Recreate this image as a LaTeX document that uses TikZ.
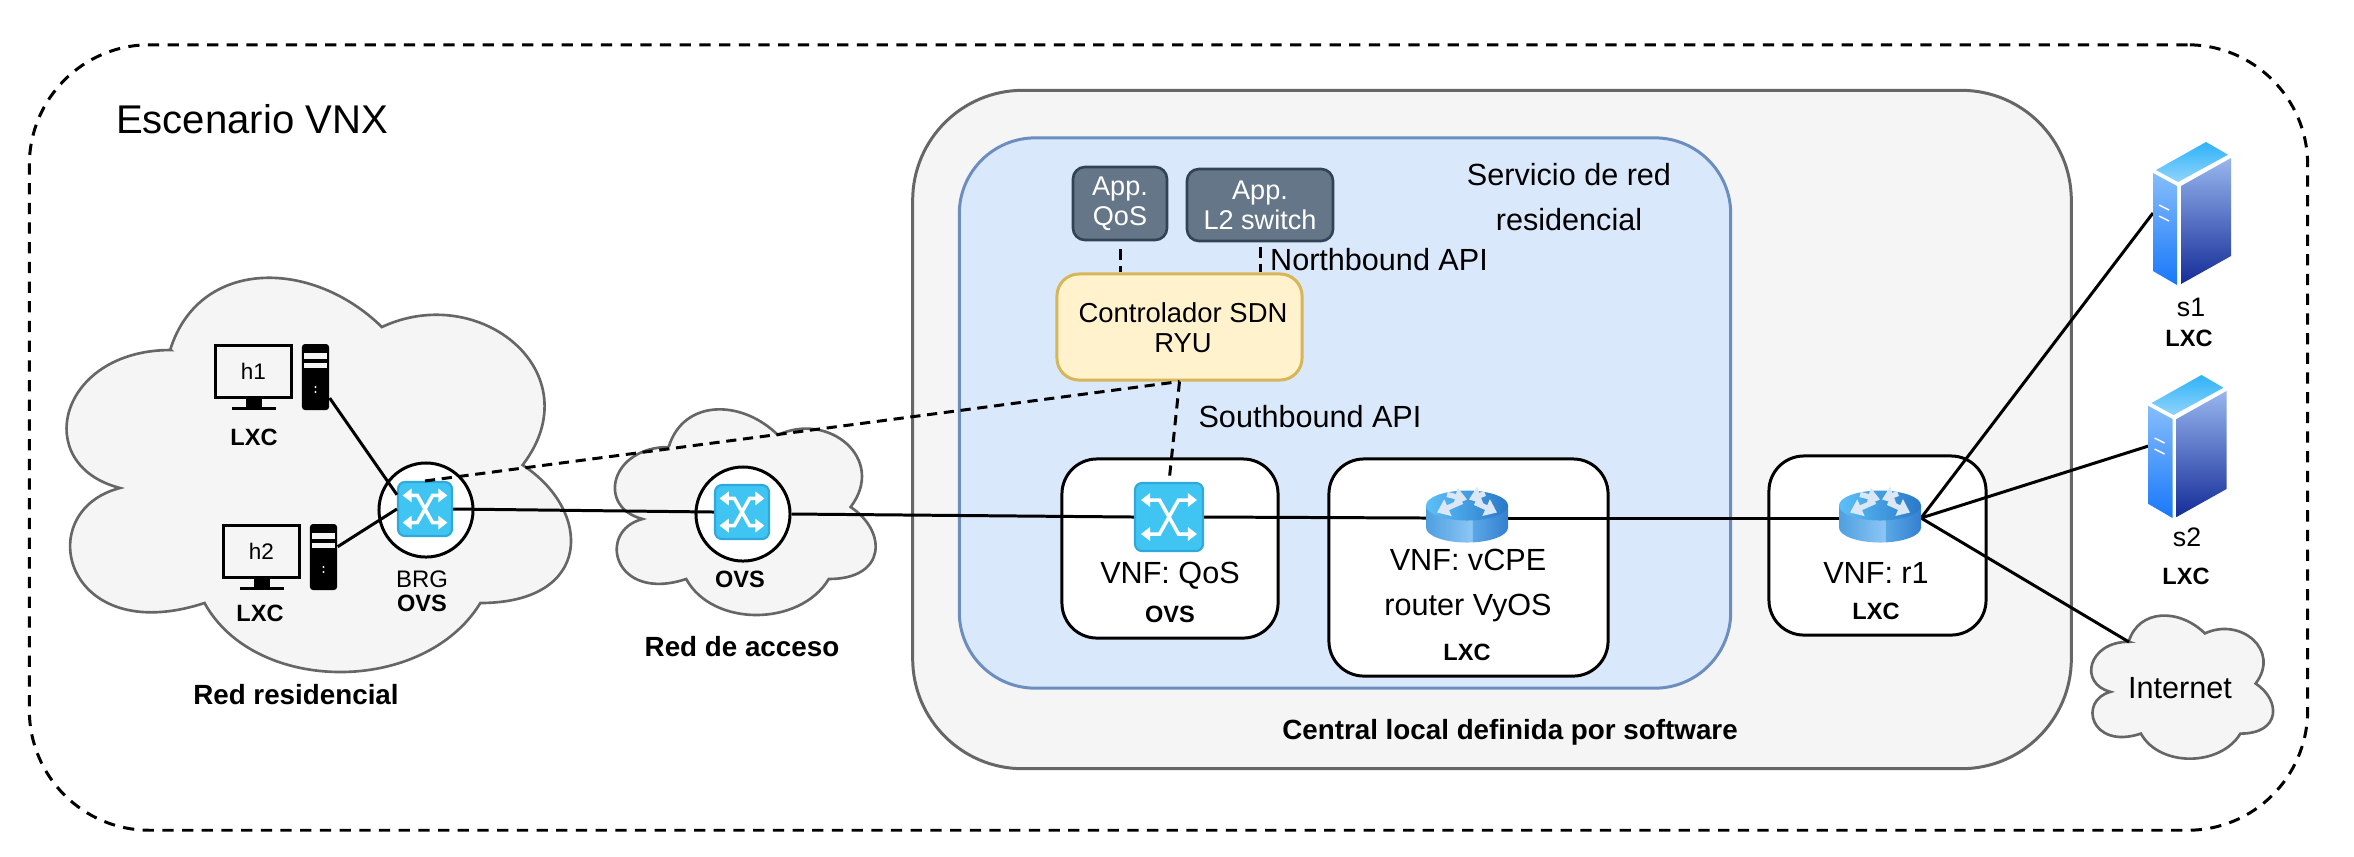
\documentclass[tikz,border=0pt]{standalone}
\usepackage{fontspec}
\usepackage{tikz}
\usetikzlibrary{arrows.meta, positioning}
\setmainfont{Liberation Sans}
\definecolor{cloudFill}{HTML}{F5F5F5}
\definecolor{cloudLine}{HTML}{666666}
\definecolor{svcFill}{HTML}{DAE8FC}
\definecolor{svcLine}{HTML}{6C8EBF}
\definecolor{ctrlFill}{HTML}{FFF2CC}
\definecolor{ctrlLine}{HTML}{D6B656}
\definecolor{appFill}{HTML}{647687}
\definecolor{appLine}{HTML}{314354}
\definecolor{swFill}{HTML}{40C5F3}
\definecolor{swLine}{HTML}{2FA8DC}
\definecolor{srvTopA}{HTML}{2FB2F8}
\definecolor{srvTopB}{HTML}{90D4FB}
\definecolor{srvLeftA}{HTML}{86BDFB}
\definecolor{srvLeftB}{HTML}{1878FA}
\definecolor{srvRightA}{HTML}{98B6EE}
\definecolor{srvRightB}{HTML}{142C98}
\definecolor{rtTopA}{HTML}{5CC0F8}
\definecolor{rtTopB}{HTML}{2A78C8}
\definecolor{rtBodyA}{HTML}{4F9FE0}
\definecolor{rtBodyB}{HTML}{8CC6F5}
\definecolor{rtBodyC}{HTML}{5AA8E6}
\definecolor{rtBodyD}{HTML}{347FD0}
\definecolor{rtArrow}{HTML}{DCE7F6}
\pgfdeclarehorizontalshading{rtbody}{100bp}{color(0bp)=(rtBodyA); color(25bp)=(rtBodyA); color(53bp)=(rtBodyB); color(53.3bp)=(rtBodyC); color(75bp)=(rtBodyD); color(100bp)=(rtBodyD)}
\newcommand{\cloudshape}[4]{%
  \begin{scope}[shift={(#1,#2)}, xscale=#3, yscale=#4]
    \draw[line width=0.75pt, draw=cloudLine, fill=cloudFill]
      (0.25,0.25) .. controls (0.05,0.25) and (0,0.5) .. (0.16,0.55)
      .. controls (0,0.6) and (0.06,0.9) .. (0.31,0.8)
      .. controls (0.4,1) and (0.7,1) .. (0.8,0.8)
      .. controls (1,0.8) and (1,0.6) .. (0.875,0.5)
      .. controls (1,0.3) and (0.8,0.1) .. (0.625,0.2)
      .. controls (0.5,0.05) and (0.3,0.05) .. cycle;
  \end{scope}}
\tikzset{
  swicon/.pic={
    \draw[white, line width=1pt, {Triangle[length=2.6pt,width=3.8pt]}-{Triangle[length=2.6pt,width=3.8pt]}]
      (-28,-17) -- (-9.5,-17) -- (9.5,17) -- (28,17);
    \draw[white, line width=1pt, {Triangle[length=2.6pt,width=3.8pt]}-{Triangle[length=2.6pt,width=3.8pt]}]
      (-28,17) -- (-9.5,17) -- (9.5,-17) -- (28,-17);
  },
  rticon/.pic={
    \shade[shading=rtbody] (0,9.5) ellipse [x radius=0.41cm, y radius=0.15cm];
    \shade[shading=rtbody] (-41,-12.5) rectangle (41,9.5);
    \shade[left color=rtTopA, right color=rtTopB] (0,-12.5) ellipse [x radius=0.41cm, y radius=0.15cm];
    \foreach \xa/\ya/\xb/\yb in {-5/-16.5/-30/-5.5, -20/-23.5/0/-18.5, 18/-24.5/2/-18.5, 8/-15.5/30/-5.5} {
      \draw[rtArrow, line width=1.5pt, -{Triangle[length=3.4pt,width=5pt]}] (\xa,\ya) -- (\xb,\yb);
    }
  },
  srvicon/.pic={
    \shade[bottom color=srvTopB, top color=srvTopA] (-36,-43) -- (14,-71) -- (36,-58.3) -- (-14,-31) -- cycle;
    \shade[top color=srvLeftA, bottom color=srvLeftB] (-39,-40) -- (-15,-27) -- (-15,72) -- (-39,58) -- cycle;
    \shade[top color=srvRightA, bottom color=srvRightB] (-11,-27) -- (39,-55) -- (39,43) -- (-11,71) -- cycle;
    \draw[white, line width=0.4pt] (-33,-8) -- (-23,-3) (-33,3) -- (-23,8);
  }
}
\begin{document}
\begin{tikzpicture}[
    x=0.01cm, y=-0.01cm,
    panel/.style={draw=cloudLine, fill=cloudFill, line width=0.85pt, rounded corners=1.1cm,
        minimum width=11.58cm, minimum height=6.78cm},
    vnf/.style={draw, fill=white, line width=0.85pt, rounded corners=0.35cm, inner sep=0pt},
    app/.style={draw=appLine, fill=appFill, line width=0.75pt, rounded corners=0.12cm, text=white,
        font=\fontsize{7.7}{8.5}\selectfont, align=center, inner sep=0pt},
    ring/.style={circle, draw, fill=white, line width=0.85pt, minimum size=0.94cm, inner sep=0pt},
    sw/.style={draw=swLine, fill=swFill, line width=0.6pt, rounded corners=0.07cm, inner sep=0pt, minimum size=0.68cm},
    rt/.style={minimum width=0.82cm, minimum height=0.51cm, inner sep=0pt, outer sep=0pt},
    srv/.style={minimum width=0.78cm, minimum height=1.42cm, inner sep=0pt, outer sep=0pt},
    lbl/.style={font=\fontsize{8.7}{12.7}\selectfont, align=center, inner sep=0pt},
    tag/.style={font=\fontsize{6.7}{8}\selectfont\bfseries, align=center, inner sep=0pt},
    capname/.style={font=\fontsize{7.9}{10}\selectfont\bfseries, inner sep=0pt},
    conn/.style={line width=0.85pt},
    dashconn/.style={line width=0.85pt, dash pattern=on 2.9pt off 1.9pt},
]
    \useasboundingbox (0,0) rectangle (2354,856);
    \fill[white] (0,0) rectangle (2354,856);
    \node[draw, line width=0.85pt, dash pattern=on 3.2pt off 2.4pt, rounded corners=1.2cm, inner sep=0pt,
        minimum width=22.77cm, minimum height=7.85cm] (vnx) at (1168.5,437.5) {};
    \node[font=\fontsize{11.4}{13}\selectfont, inner sep=0pt] (vnxname) at (252,119) {Escenario VNX};

    % central local
    \node[panel] (central) at (1492,429.5) {};
    \node[draw=svcLine, fill=svcFill, line width=0.85pt, rounded corners=0.76cm, inner sep=0pt,
        minimum width=7.71cm, minimum height=5.50cm] (svc) at (1345,413) {};
    \node[capname] (centralname) at (1510,732) {Central local definida por software};
    \node[lbl] (svcname) at (1569,197) {Servicio de red\\residencial};

    % nubes
    \cloudshape{30}{235}{563}{460}
    \cloudshape{596}{387}{291}{240}
    \cloudshape{2078}{600}{203}{167}
    \node[capname] (homename) at (296,695) {Red residencial};
    \node[capname] (accname) at (742,647) {Red de acceso};
    \node[lbl] (inet) at (2180,688) {Internet};
    \coordinate (inetedge) at (2129,642);

    % hosts
    \foreach \hname/\hx/\hy in {h1/215/344, h2/223/524} {
        \node[draw, line width=0.85pt, minimum width=0.75cm, minimum height=0.52cm, inner sep=0pt,
            font=\fontsize{6.4}{8}\selectfont] (mon\hname) at (\hx+38.5,\hy+27) {\hname};
        \fill (\hx+31,\hy+54) rectangle (\hx+47,\hy+63);
        \fill (\hx+17,\hy+63) rectangle (\hx+61,\hy+66);
        \node[fill=black, rounded corners=0.03cm, minimum width=0.27cm, minimum height=0.66cm, inner sep=0pt]
            (tower\hname) at (\hx+100.5,\hy+33) {};
        \fill[cloudFill] (\hx+89,\hy+9) rectangle (\hx+112,\hy+15);
        \fill[cloudFill] (\hx+89,\hy+19) rectangle (\hx+112,\hy+24);
        \fill[cloudFill] (\hx+100.5,\hy+43) circle (0.012cm) (\hx+100.5,\hy+48) circle (0.012cm);
    }
    \node[tag] (hostxa) at (254,437) {LXC};
    \node[tag] (hostxb) at (260,613) {LXC};

    % conmutadores
    \node[ring] (brgring) at (426,510) {};
    \node[ring] (accring) at (743,514) {};
    \node[sw, minimum size=0.54cm] (brg) at (425,509) {};
    \node[sw, minimum size=0.54cm] (acc) at (742,512) {};
    \node[font=\fontsize{6.8}{8}\selectfont, inner sep=0pt] (brgname) at (422,579) {BRG};
    \node[tag] (brgtag) at (422,603) {OVS};
    \node[tag] (acctag) at (740,579) {OVS};

    % servicio
    \node[app, minimum width=0.94cm, minimum height=0.73cm] (appqos) at (1120,203.5) {App.\\QoS};
    \node[app, minimum width=1.46cm, minimum height=0.72cm] (appl2) at (1260,205) {App.\\L2 switch};
    \node[draw=ctrlLine, fill=ctrlFill, line width=0.85pt, rounded corners=0.22cm, inner sep=0pt,
        minimum width=2.45cm, minimum height=1.06cm] (ctrl) at (1179.5,327) {};
    \node[font=\fontsize{7.8}{8.6}\selectfont, align=center, inner sep=0pt] (ctrlname) at (1183,328) {Controlador SDN\\RYU};
    \node[lbl] (north) at (1379,260) {Northbound API};
    \node[lbl] (south) at (1310,417) {Southbound API};

    % cajas VNF
    \node[vnf, minimum width=2.16cm, minimum height=1.79cm] (boxqos) at (1170,548.5) {};
    \node[vnf, minimum width=2.79cm, minimum height=2.17cm] (boxcpe) at (1468.5,567.5) {};
    \node[vnf, minimum width=2.17cm, minimum height=1.79cm] (boxrone) at (1877.5,545.5) {};
    \node[sw] (qos) at (1169,517) {};
    \node[rt] (vcpe) at (1467,518) {};
    \node[rt] (rone) at (1880,518) {};
    \node[lbl] (qosname) at (1170,576) {VNF: QoS};
    \node[tag, below=0.15cm of qosname] (qostag) {OVS};
    \node[lbl] (cpename) at (1468,585.5) {VNF: vCPE\\router VyOS};
    \node[tag] (cpetag) at (1467,652) {LXC};
    \node[lbl] (ronename) at (1876,573) {VNF: r1};
    \node[tag, below=0.18cm of ronename] (ronetag) {LXC};

    % servidores
    \node[srv] (sone) at (2192,213) {};
    \node[srv] (stwo) at (2187.5,446) {};
    \node[lbl, font=\fontsize{7.6}{9}\selectfont] (sonename) at (2191,307) {s1};
    \node[tag] (sonetag) at (2189,338) {LXC};
    \node[lbl, font=\fontsize{7.6}{9}\selectfont] (stwoname) at (2187,537) {s2};
    \node[tag] (stwotag) at (2186,576) {LXC};

    % enlaces
    \draw[conn] (towerh1.-56) -- (brg.153);
    \draw[conn] (towerh2.36) -- (brg.west);
    \draw[conn] (brg.east) -- (acc.west);
    \draw[conn] (accring.east) -- (qos.west);
    \draw[conn] (qos.east) -- (vcpe.west);
    \draw[conn] (vcpe.east) -- (rone.west);
    \draw[conn] (rone.east) -- (sone.west);
    \draw[conn] (rone.east) -- (stwo.west);
    \draw[conn] (rone.east) -- (inetedge);
    \draw[dashconn] (brg.north) -- (ctrl.south);
    \draw[dashconn] (ctrl.south) -- (qos.north);
    \draw[dashconn, shorten <=0.08cm] (appqos.south) -- (appqos.south |- ctrl.north);
    \draw[dashconn, shorten <=0.05cm] (appl2.south) -- (appl2.south |- ctrl.north);

    % iconos
    \pic[scale=0.8] at (brg) {swicon};
    \pic[scale=0.8] at (acc) {swicon};
    \pic at (qos) {swicon};
    \pic at (vcpe) {rticon};
    \pic at (rone) {rticon};
    \pic at (sone) {srvicon};
    \pic at (stwo) {srvicon};
\end{tikzpicture}
\end{document}
